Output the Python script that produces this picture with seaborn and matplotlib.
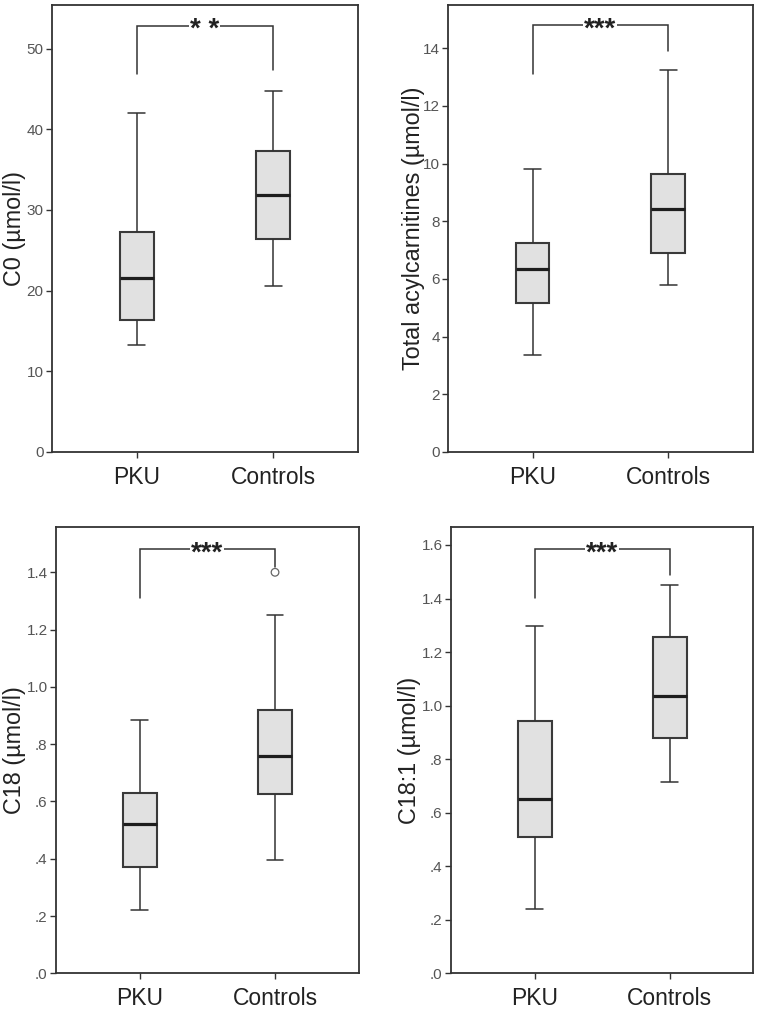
import numpy as np
import pandas as pd
import matplotlib
matplotlib.use("Agg")
import matplotlib.pyplot as plt
import seaborn as sns

# ---------------- data (five-number summaries) ----------------
groups = ["PKU", "Controls"]

# [lower whisker, Q1, median, Q3, upper whisker]
c0_pku = [13.2, 16.3, 21.6, 27.2, 42.0]
c0_ctrl = [20.6, 26.4, 31.8, 37.3, 44.7]

tac_pku = [3.36, 5.15, 6.36, 7.25, 9.81]
tac_ctrl = [5.80, 6.89, 8.43, 9.65, 13.26]

c18_pku = [0.221, 0.370, 0.521, 0.631, 0.883]
c18_ctrl = [0.396, 0.625, 0.759, 0.920, 1.252]
c18_ctrl_outlier = [1.40]

c181_pku = [0.239, 0.508, 0.651, 0.944, 1.298]
c181_ctrl = [0.714, 0.879, 1.036, 1.258, 1.452]

ylabels = ["C0 (µmol/l)", "Total acylcarnitines (µmol/l)", "C18 (µmol/l)", "C18:1 (µmol/l)"]
stars = ["* *", "***", "***", "***"]

# bracket: [PKU leg bottom, top, Controls leg bottom]
brackets = [
    [46.86, 52.85, 47.35],
    [13.12, 14.80, 13.90],
    [1.311, 1.480, 1.420],
    [1.403, 1.584, 1.487],
]

yticks = [
    [0, 10, 20, 30, 40, 50],
    [0, 2, 4, 6, 8, 10, 12, 14],
    [0.0, 0.2, 0.4, 0.6, 0.8, 1.0, 1.2, 1.4],
    [0.0, 0.2, 0.4, 0.6, 0.8, 1.0, 1.2, 1.4, 1.6],
]
yticklabels = [
    ["0", "10", "20", "30", "40", "50"],
    ["0", "2", "4", "6", "8", "10", "12", "14"],
    [".0", ".2", ".4", ".6", ".8", "1.0", "1.2", "1.4"],
    [".0", ".2", ".4", ".6", ".8", "1.0", "1.2", "1.4", "1.6"],
]
ylims = [(0, 55.4), (0, 15.5), (0, 1.557), (0, 1.666)]

panels = [
    (c0_pku, c0_ctrl, None),
    (tac_pku, tac_ctrl, None),
    (c18_pku, c18_ctrl, c18_ctrl_outlier),
    (c181_pku, c181_ctrl, None),
]

# ---------------- styling ----------------
sns.set_style("ticks")
plt.rcParams["font.family"] = ["Liberation Sans", "DejaVu Sans"]

DARK = "#333333"
FACE = "#e1e1e1"

fig = plt.figure(figsize=(7.59, 10.10), dpi=100)

positions = [
    [0.0685, 0.5525, 0.4030, 0.4426],
    [0.5906, 0.5525, 0.4010, 0.4426],
    [0.0738, 0.0363, 0.3990, 0.4416],
    [0.5942, 0.0363, 0.3983, 0.4416],
]
label_x = [-0.085, -0.077, -0.099, -0.099]
STAR_FS = 20

for i, (pku, ctrl, outl) in enumerate(panels):
    ax = fig.add_axes(positions[i])
    df = pd.DataFrame({
        "group": ["PKU"] * len(pku) + ["Controls"] * len(ctrl),
        "value": list(pku) + list(ctrl),
    })
    sns.boxplot(
        data=df, x="group", y="value", order=groups, ax=ax,
        width=0.25, whis=(0, 100), color=FACE, saturation=1,
        linecolor=DARK, linewidth=1.0,
        boxprops=dict(linewidth=1.5, edgecolor="#3a3a3a"),
        whiskerprops=dict(linewidth=1.1, color=DARK),
        capprops=dict(linewidth=1.1, color=DARK),
        medianprops=dict(linewidth=2.3, color="#1e1e1e"),
        fliersize=0,
    )
    if outl is not None:
        odf = pd.DataFrame({"group": ["Controls"] * len(outl), "value": outl})
        sns.stripplot(data=odf, x="group", y="value", order=groups, ax=ax,
                      jitter=False, size=5.5, color="white", edgecolor="#666666",
                      linewidth=0.9)
        coll = ax.collections[-1]
        coll.set_facecolor("none")
        coll.set_edgecolor("#666666")

    # significance bracket
    b = brackets[i]
    ax.plot([0, 0, 1, 1], [b[0], b[1], b[1], b[2]], color=DARK, lw=1.1,
            solid_joinstyle="miter", zorder=3)
    ax.annotate(stars[i], xy=(0.5, b[1]), xycoords="data",
                xytext=(0, -0.40 * STAR_FS), textcoords="offset points",
                ha="center", va="baseline", fontsize=STAR_FS,
                fontweight="bold", color="#222222", zorder=4,
                bbox=dict(facecolor="white", edgecolor="none", pad=0.5))

    ax.set_xlim(-0.62, 1.62)
    ax.set_ylim(*ylims[i])
    ax.set_yticks(yticks[i])
    ax.set_yticklabels(yticklabels[i])
    ax.set_xticks([0, 1])
    ax.set_xticklabels(groups)
    ax.set_xlabel("")
    ax.set_ylabel(ylabels[i], fontsize=16.8, color="#222222")
    ax.yaxis.set_label_coords(label_x[i], 0.5)
    ax.tick_params(axis="y", labelsize=11, colors="#555555", length=4, width=1.0,
                   pad=2)
    ax.tick_params(axis="y", color=DARK)
    ax.tick_params(axis="x", labelsize=16.5, labelcolor="#222222", color=DARK,
                   length=4, width=1.0, pad=6)
    for sp in ax.spines.values():
        sp.set_visible(True)
        sp.set_color(DARK)
        sp.set_linewidth(1.3)
    ax.set_facecolor("white")

fig.savefig("out.png", dpi=100, facecolor="white")
